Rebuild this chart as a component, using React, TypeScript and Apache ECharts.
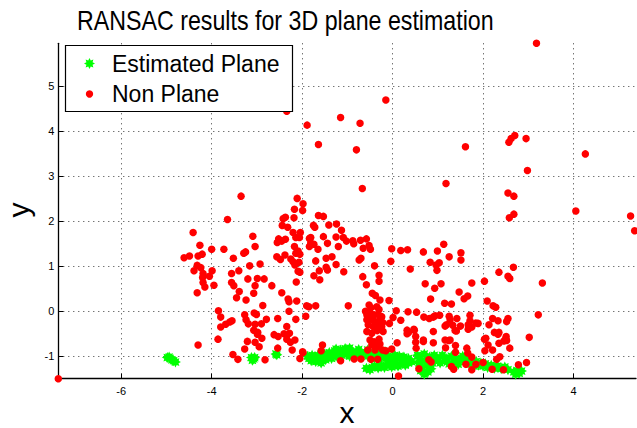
import React, { useEffect, useRef } from "react";
import * as echarts from "echarts";

const titleText = "RANSAC results for 3D plane estimation";
const xName = "x";
const yName = "y";
const legendNames = ["Estimated Plane", "Non Plane"];
const xTicks = [-6, -4, -2, 0, 2, 4];
const yTicks = [-1, 0, 1, 2, 3, 4, 5];
const xRange = [-7.39, 5.38];
const yRange = [-1.5, 5.96];

// Inliers (green asterisks)
const planePoints: number[][] = [
  [-4.98, -1.03], [-4.94, -1.02], [-4.92, -1.05], [-4.88, -1.08], [-4.84, -1.1], [-4.8, -1.13],
  [-3.12, -1.03], [-3.07, -1.06], [-3.1, -1.09], [-3.05, -1.03],
  [-2.56, -0.97], [-2.58, -0.95],
  [-1.88, -1.0], [-1.85, -1.05], [-1.8, -1.1], [-1.78, -0.98], [-1.72, -1.03], [-1.7, -1.12],
  [-1.65, -0.98], [-1.62, -1.06], [-1.58, -1.15], [-1.55, -1.0], [-1.5, -0.95], [-1.48, -1.08],
  [-1.42, -1.02], [-1.4, -0.92], [-1.35, -1.05], [-1.32, -0.95], [-1.28, -0.88], [-1.25, -1.0],
  [-1.2, -0.93], [-1.15, -0.86], [-1.12, -0.98], [-1.08, -0.9], [-1.02, -0.95], [-0.98, -0.87],
  [-0.95, -1.0], [-0.9, -0.92], [-0.85, -0.96], [-0.8, -0.9], [-0.75, -0.98], [-0.7, -0.93],
  [-0.65, -0.97], [-0.6, -0.92], [-0.55, -1.0], [-0.5, -0.95], [-0.45, -1.02], [-0.4, -0.97],
  [-0.35, -1.05], [-0.3, -0.98], [-0.25, -1.03], [-0.2, -0.97], [-0.15, -1.05], [-0.1, -1.0],
  [-0.05, -1.08], [0.0, -1.02], [0.05, -0.98], [0.1, -1.05], [0.15, -1.0], [0.2, -1.07],
  [0.25, -1.02], [0.3, -1.1], [0.35, -1.05],
  [-1.25, -0.84], [-1.05, -0.83], [-0.95, -0.82], [-0.75, -0.85], [-0.55, -0.86], [-0.35, -0.88], [-0.15, -0.9],
  [-0.58, -1.27], [-0.5, -1.3], [-0.45, -1.25], [-0.4, -1.22], [-0.32, -1.26], [-0.25, -1.2],
  [-0.18, -1.25], [-0.1, -1.18], [-0.02, -1.24], [0.05, -1.17], [0.12, -1.22], [0.2, -1.15],
  [0.28, -1.2], [0.35, -1.15], [0.42, -1.12],
  [0.55, -0.98], [0.6, -1.05], [0.58, -1.15], [0.65, -1.25], [0.7, -0.95], [0.72, -1.1],
  [0.75, -1.2], [0.78, -1.35], [0.82, -1.02], [0.85, -1.28], [0.88, -1.15], [0.92, -0.98],
  [0.95, -1.08], [0.7, -1.4], [0.62, -1.32],
  [1.0, -1.05], [1.05, -1.15], [1.1, -0.98], [1.15, -1.1], [1.2, -1.05], [1.25, -1.17],
  [1.3, -1.0], [1.35, -1.12], [1.4, -1.05], [1.45, -1.18], [1.5, -1.08], [1.55, -1.0],
  [1.6, -1.12], [1.65, -1.05], [1.7, -1.18], [1.75, -1.1], [1.8, -1.22], [1.85, -1.12],
  [1.9, -1.2], [1.95, -1.15],
  [2.0, -1.22], [2.05, -1.17], [2.1, -1.25], [2.18, -1.2], [2.25, -1.27], [2.32, -1.22],
  [2.4, -1.28], [2.48, -1.24], [2.55, -1.3],
  [2.68, -1.35], [2.75, -1.32], [2.8, -1.38], [2.72, -1.4], [2.85, -1.33],
];

// Outliers (red dots)
const nonPlanePoints: number[][] = [
  [3.18, 5.96], [-0.15, 4.7], [-1.89, 4.14], [-1.15, 4.31], [-0.72, 4.18], [-2.34, 4.45],
  [-1.64, 3.71], [-0.8, 3.59], [1.61, 3.66], [2.57, 3.76], [2.62, 3.84], [2.7, 3.91],
  [2.95, 3.84], [2.98, 3.13], [4.26, 3.5], [-0.67, 2.73], [1.18, 2.84], [2.55, 2.63],
  [2.68, 2.56], [2.58, 2.08], [2.68, 2.16], [4.05, 2.23], [5.26, 2.12], [5.35, 1.79],
  [3.31, 0.63], [3.22, -0.08], [-7.39, -1.5],
  [-3.35, 2.56], [-3.65, 2.04], [-4.41, 1.75], [-4.26, 1.47], [-4.0, 1.38], [-3.73, 1.38],
  [-4.61, 1.19], [-4.49, 1.23], [-4.3, 1.23], [-4.21, 1.27], [-4.32, 1.02], [-4.24, 0.97],
  [-4.39, 0.9], [-4.19, 0.84], [-4.2, 0.75], [-4.19, 0.64], [-4.15, 0.54], [-4.32, 0.41],
  [-4.05, 0.78], [-3.99, 0.9], [-3.95, 0.58], [-3.52, 1.18], [-3.29, 1.29], [-3.25, 1.32],
  [-3.09, 1.67], [-3.04, 1.44], [-3.16, 1.01], [-2.93, 1.05], [-3.4, 0.9], [-3.56, 0.84],
  [-3.2, 0.72], [-2.99, 0.73], [-2.84, 0.72], [-3.56, 0.64], [-3.51, 0.57], [-3.04, 0.57],
  [-3.39, 0.44], [-3.07, 0.4], [-2.67, 0.57], [-2.45, 0.41],
  [-3.45, 0.3], [-3.24, 0.25], [-2.87, 0.13], [-2.31, 0.27], [-2.29, 0.21], [-2.12, 0.23],
  [-1.9, 0.12], [-3.85, 0.01], [-3.8, -0.13], [-3.27, -0.08], [-3.06, -0.04], [-3.01, -0.07],
  [-3.24, -0.19], [-3.19, -0.28], [-3.55, -0.21], [-3.6, -0.24], [-3.69, -0.29], [-3.8, -0.35],
  [-2.79, -0.18], [-3.04, -0.29], [-2.9, -0.28], [-3.07, -0.42], [-2.98, -0.47], [-2.99, -0.51],
  [-2.54, -0.16], [-2.29, 0.0], [-2.14, -0.18], [-2.34, -0.34], [-2.62, -0.52], [-2.53, -0.56],
  [-2.4, -0.5], [-2.28, -0.49], [-2.34, -0.62], [-2.26, -0.69], [-2.16, -0.64], [-3.86, -0.62],
  [-4.3, -0.75], [-2.89, -0.6], [-3.21, -0.67], [-3.04, -0.69], [-2.95, -0.79], [-3.27, -0.84],
  [-2.54, -0.82], [-2.22, -0.86], [-1.98, -0.92], [-3.53, -0.96], [-3.42, -1.07], [-2.82, -1.08],
  [-2.05, -1.05],
  [-2.11, 2.51], [-1.98, 2.39], [-2.17, 2.27], [-1.99, 2.24], [-2.37, 2.09], [-2.42, 2.06],
  [-2.18, 2.08], [-2.44, 1.91], [-2.32, 1.87], [-2.2, 1.75], [-2.04, 1.75], [-2.14, 1.64],
  [-2.06, 1.64], [-2.52, 1.61], [-2.37, 1.6], [-2.55, 1.53], [-2.45, 1.56], [-2.17, 1.44],
  [-2.09, 1.34], [-2.14, 1.29], [-2.05, 1.27], [-1.84, 1.44], [-2.56, 1.21], [-2.48, 1.15],
  [-2.38, 1.25], [-2.25, 1.16], [-2.2, 1.1], [-2.16, 1.03], [-2.07, 1.09], [-2.09, 0.89],
  [-2.05, 0.87], [-2.13, 0.65], [-1.84, 1.62],
  [-1.64, 2.13], [-1.53, 2.11], [-1.75, 1.91], [-1.72, 1.87], [-1.41, 1.92], [-1.24, 1.94],
  [-1.13, 1.8], [-1.81, 1.64], [-1.53, 1.66], [-1.25, 1.65], [-1.09, 1.64], [-1.02, 1.56],
  [-0.88, 1.57], [-0.86, 1.5], [-0.71, 1.58], [-0.58, 1.61], [-1.74, 1.49], [-1.81, 1.52],
  [-1.44, 1.51], [-1.2, 1.44], [-1.65, 1.38], [-0.65, 1.4], [-0.52, 1.46], [-0.49, 1.38],
  [-0.02, 1.39], [0.18, 1.35], [0.33, 1.37], [-1.34, 1.21], [-1.47, 1.18], [-1.7, 1.12],
  [-0.7, 1.18], [-0.74, 1.14], [-1.25, 1.04], [-1.47, 0.98], [-1.44, 0.92], [-0.4, 1.01],
  [-0.04, 1.11], [0.39, 0.94], [-1.62, 0.9], [-1.74, 0.79], [-1.61, 0.7], [-1.08, 0.88],
  [-0.66, 0.77], [-0.3, 0.8], [-0.3, 0.67], [-0.58, 0.59], [-0.28, 0.25], [-0.08, 0.24],
  [-0.52, 0.14], [-1.85, 0.1], [-1.7, 0.12], [-0.98, 0.12], [-1.92, -0.11], [0.08, 0.01],
  [0.34, -0.01], [0.53, -0.02], [0.01, -0.14], [0.18, -0.2], [-0.07, -0.27], [0.32, -0.42],
  [0.48, -0.42], [0.32, -0.5],
  [-0.48, 0.08], [-0.35, 0.1], [-0.3, 0.04], [-0.57, -0.08], [-0.5, -0.04], [-0.41, -0.08],
  [-0.32, -0.07], [-0.24, -0.12], [-0.57, -0.19], [-0.46, -0.18], [-0.39, -0.23], [-0.28, -0.19],
  [-0.22, -0.25], [-0.54, -0.3], [-0.43, -0.34], [-0.35, -0.3], [-0.24, -0.34], [-0.57, -0.45],
  [-0.46, -0.49], [-0.34, -0.43], [-0.21, -0.45], [-0.5, -0.64], [-0.41, -0.68], [-0.3, -0.62],
  [-0.46, -0.75], [-0.35, -0.79], [-0.28, -0.73], [-0.22, -0.86], [-0.39, -0.86], [-0.15, -0.88],
  [-0.55, -0.86], [-0.6, 0.0], [-0.45, 0.4], [-0.38, 0.35],
  [-1.55, -0.75], [-1.58, -0.88], [-1.99, -0.9], [0.13, -1.44], [0.35, -0.47], [0.51, -0.56],
  [0.51, -0.69], [0.1, -0.7], [0.68, -0.67], [0.9, -0.7], [0.52, -0.82], [1.17, -0.81],
  [1.19, -0.3], [1.38, -0.43], [1.16, -0.64], [1.24, -0.65], [1.39, -0.76], [1.39, -0.91],
  [1.64, -0.82], [1.66, -0.93], [1.75, -1.02], [2.03, -0.62], [2.04, -0.88], [2.11, -0.75],
  [2.21, -0.86], [2.33, -0.51], [2.35, -0.71], [2.46, -0.66], [2.52, -0.65], [2.5, -0.61],
  [2.59, -0.82], [2.37, -1.01], [2.3, -1.07], [2.96, -1.14], [2.78, -1.19], [2.2, -1.29],
  [2.45, -1.3], [0.58, -1.28], [0.8, -1.08], [1.3, -1.23], [1.35, -1.29], [1.62, -1.18],
  [1.84, -1.18], [2.0, -1.14], [-0.85, -1.06], [-0.7, -1.06], [-0.48, -1.07], [-0.33, -1.07],
  [-0.02, -0.84], [1.75, -1.3], [0.85, -1.13], [-1.15, -1.1],
  [1.13, 1.49], [0.68, 1.32], [0.99, 1.34], [1.25, 1.21], [1.51, 1.3], [1.51, 1.14],
  [0.83, 1.09], [0.96, 1.03], [1.03, 1.08], [0.98, 0.91], [2.35, 0.87], [2.67, 0.98],
  [2.55, 0.78], [2.59, 0.73], [2.03, 0.67], [1.75, 0.63], [1.07, 0.61], [0.93, 0.51],
  [0.72, 0.61], [1.47, 0.43], [1.66, 0.34], [1.58, 0.28], [0.84, 0.27], [2.09, 0.23],
  [1.15, 0.18], [1.3, 0.16], [2.22, 0.12], [2.28, 0.09], [0.69, -0.13], [0.81, -0.16],
  [0.9, -0.13], [0.94, -0.1], [1.04, -0.09], [1.25, -0.11], [1.27, -0.19], [1.42, -0.16],
  [1.71, -0.09], [1.71, -0.21], [1.84, -0.26], [1.89, -0.27], [2.21, -0.16], [2.33, -0.21],
  [2.55, -0.16], [2.52, -0.23], [2.13, -0.3], [1.16, -0.33], [1.33, -0.31], [1.5, -0.33],
  [1.67, -0.3], [1.75, -0.35], [1.67, -0.4], [0.47, -0.4], [0.9, -0.45], [1.41, -0.44],
  [2.25, -0.47], [2.35, -0.47], [2.51, -0.56], [0.68, -0.64], [1.27, -0.64], [2.06, -0.6],
  [3.02, -0.58],
];

function starPoints(cx: number, cy: number, R: number, r: number): number[][] {
  const pts: number[][] = [];
  for (let i = 0; i < 16; i++) {
    const a = (Math.PI / 8) * i - Math.PI / 2;
    const rad = i % 2 === 0 ? R : r;
    pts.push([cx + rad * Math.cos(a), cy + rad * Math.sin(a)]);
  }
  return pts;
}

const starPathStr =
  "path://" +
  starPoints(10, 10, 10, 6)
    .map((p, i) => (i === 0 ? "M" : "L") + p[0].toFixed(2) + " " + p[1].toFixed(2))
    .join(" ") +
  " Z";

const FONT = "Liberation Sans, Arial, Helvetica, sans-serif";

export default function App() {
  const ref = useRef<HTMLDivElement>(null);
  useEffect(() => {
    if (!ref.current) return;
    const chart = echarts.init(ref.current, null, { renderer: "svg" });
    const gridLine = { show: true, showMinLine: false, showMaxLine: false, lineStyle: { color: "#3a3a3a", width: 1, type: [1, 4] } };
    chart.setOption({
      animation: false,
      backgroundColor: "#ffffff",
      grid: { left: 58.3, right: 1, top: 43.3, bottom: 49.3, containLabel: false },
      xAxis: {
        type: "value",
        min: xRange[0],
        max: xRange[1],
        splitNumber: 6,
        minInterval: 2,
        maxInterval: 2,
        axisLine: { show: true, onZero: false, lineStyle: { color: "#000", width: 1.3 } },
        axisTick: { show: true, inside: true, length: 5, lineStyle: { color: "#000" } },
        axisLabel: {
          color: "#000",
          fontSize: 11,
          fontFamily: FONT,
          margin: 7,
          showMinLabel: false,
          showMaxLabel: false,
          formatter: (v: number) => (xTicks.includes(Math.round(v * 1000) / 1000) ? String(v) : ""),
        },
        splitLine: gridLine,
      },
      yAxis: {
        type: "value",
        min: yRange[0],
        max: yRange[1],
        splitNumber: 7,
        minInterval: 1,
        maxInterval: 1,
        axisLine: { show: true, onZero: false, lineStyle: { color: "#000", width: 1.3 } },
        axisTick: { show: true, inside: true, length: 5, lineStyle: { color: "#000" } },
        axisLabel: {
          color: "#000",
          fontSize: 11,
          fontFamily: FONT,
          margin: 4,
          showMinLabel: false,
          showMaxLabel: false,
          formatter: (v: number) => (yTicks.includes(Math.round(v * 1000) / 1000) ? String(v) : ""),
        },
        splitLine: gridLine,
      },
      series: [
        {
          name: legendNames[0],
          type: "scatter",
          data: planePoints,
          symbol: starPathStr,
          symbolSize: 11,
          itemStyle: { color: "#00ff00", opacity: 1 },
          z: 2,
        },
        {
          name: legendNames[1],
          type: "scatter",
          data: nonPlanePoints,
          symbol: "circle",
          symbolSize: 7.5,
          itemStyle: { color: "#ff0000", opacity: 1 },
          z: 3,
        },
      ],
      graphic: [
        {
          type: "text",
          x: 77,
          y: 20,
          scaleX: 0.86,
          style: { text: titleText, fontSize: 27, fontFamily: FONT, fill: "#000", textAlign: "left", textVerticalAlign: "middle" },
          z: 100,
        },
        {
          type: "rect",
          shape: { x: 65.5, y: 45.5, width: 227, height: 66 },
          style: { fill: "#fff", stroke: "#000", lineWidth: 1.2 },
          z: 100,
        },
        {
          type: "polygon",
          shape: { points: starPoints(89.5, 63.5, 5.5, 3.3) },
          style: { fill: "#00ff00" },
          z: 101,
        },
        {
          type: "circle",
          shape: { cx: 89.5, cy: 94, r: 3.7 },
          style: { fill: "#ff0000" },
          z: 101,
        },
        {
          type: "text",
          x: 112,
          y: 64,
          style: { text: legendNames[0], fontSize: 23, fontFamily: FONT, fill: "#000", textVerticalAlign: "middle" },
          z: 101,
        },
        {
          type: "text",
          x: 112,
          y: 94,
          style: { text: legendNames[1], fontSize: 23, fontFamily: FONT, fill: "#000", textVerticalAlign: "middle" },
          z: 101,
        },
        {
          type: "text",
          x: 347,
          y: 412,
          style: { text: xName, fontSize: 30, fontFamily: FONT, fill: "#000", textAlign: "center", textVerticalAlign: "middle" },
          z: 100,
        },
        {
          type: "text",
          x: 18,
          y: 210,
          rotation: Math.PI / 2,
          style: { text: yName, fontSize: 30, fontFamily: FONT, fill: "#000", textAlign: "center", textVerticalAlign: "middle" },
          z: 100,
        },
      ],
    });
    return () => chart.dispose();
  }, []);
  return <div ref={ref} style={{ width: 637, height: 428, position: "absolute", left: 0, top: 0 }} />;
}
